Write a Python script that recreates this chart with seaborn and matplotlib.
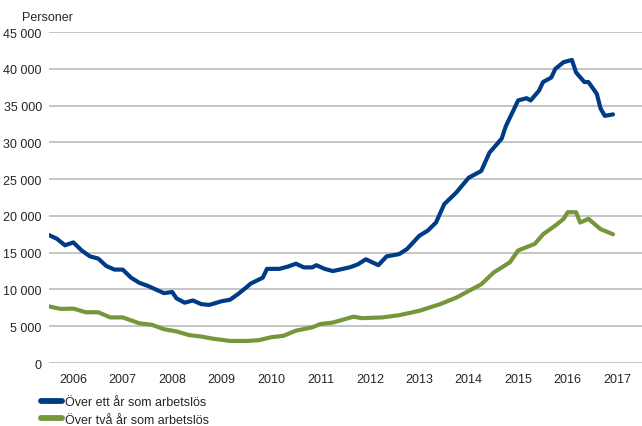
import matplotlib
matplotlib.use("Agg")
import matplotlib.pyplot as plt
import matplotlib.dates as mdates
import pandas as pd
import seaborn as sns

# long-term unemployed
blue_months = ["2006-01", "2006-03", "2006-05", "2006-07", "2006-09", "2006-11",
               "2007-01", "2007-03", "2007-05", "2007-07", "2007-09", "2007-11",
               "2008-01", "2008-03", "2008-05", "2008-07", "2008-08", "2008-10",
               "2008-12", "2009-02", "2009-04", "2009-07", "2009-09", "2009-11",
               "2010-01", "2010-02", "2010-05", "2010-06", "2010-09", "2010-11",
               "2011-01", "2011-03", "2011-05", "2011-06", "2011-08", "2011-10",
               "2012-02", "2012-04", "2012-06", "2012-09", "2012-11", "2013-02",
               "2013-04", "2013-07", "2013-09", "2013-11", "2014-01", "2014-04",
               "2014-07", "2014-10", "2014-12", "2015-03", "2015-04", "2015-07",
               "2015-09", "2015-10", "2015-12", "2016-01", "2016-03", "2016-04",
               "2016-06", "2016-08", "2016-09", "2016-11", "2016-12", "2017-02",
               "2017-03", "2017-04", "2017-06"]
blue_values = [17400, 16900, 16000, 16400, 15300, 14500,
               14200, 13200, 12700, 12700, 11600, 10900,
               10500, 10000, 9500, 9650, 8800, 8200,
               8500, 8000, 7900, 8400, 8600, 9400,
               10300, 10800, 11600, 12800, 12800, 13100,
               13500, 13000, 13000, 13300, 12800, 12500,
               13000, 13400, 14100, 13300, 14500, 14800,
               15500, 17300, 18000, 19100, 21600, 23200,
               25200, 26100, 28600, 30500, 32200, 35700,
               36000, 35700, 37000, 38200, 38800, 40000,
               40900, 41200, 39500, 38200, 38200, 36600,
               34600, 33600, 33800]

green_months = ["2006-01", "2006-04", "2006-07", "2006-10", "2007-01", "2007-04",
                "2007-07", "2007-11", "2008-02", "2008-05", "2008-08", "2008-11",
                "2009-02", "2009-05", "2009-09", "2010-01", "2010-04", "2010-07",
                "2010-10", "2011-01", "2011-05", "2011-07", "2011-10", "2012-03",
                "2012-05", "2012-10", "2013-02", "2013-07", "2013-12", "2014-04",
                "2014-08", "2014-10", "2015-01", "2015-05", "2015-07", "2015-11",
                "2016-01", "2016-04", "2016-06", "2016-07", "2016-09", "2016-10",
                "2016-12", "2017-03", "2017-06"]
green_values = [7700, 7350, 7400, 6900, 6900, 6200,
                6200, 5400, 5200, 4600, 4300, 3800,
                3600, 3300, 3000, 3000, 3100, 3500,
                3700, 4400, 4850, 5300, 5500, 6300,
                6100, 6200, 6500, 7100, 8000, 8900,
                10100, 10700, 12300, 13700, 15300, 16200,
                17500, 18700, 19600, 20500, 20500, 19100,
                19600, 18200, 17500]

labels = ["Över ett år som arbetslös", "Över två år som arbetslös"]
colors = ["#003C86", "#76963C"]
years = list(range(2006, 2018))
yticks = list(range(0, 45001, 5000))

df = pd.concat([
    pd.DataFrame({"Månad": pd.to_datetime(blue_months), "Personer": blue_values,
                  "Serie": labels[0]}),
    pd.DataFrame({"Månad": pd.to_datetime(green_months), "Personer": green_values,
                  "Serie": labels[1]}),
])

sns.set_style("white")
plt.rcParams["font.family"] = ["Liberation Sans", "DejaVu Sans"]

fig = plt.figure(figsize=(6.42, 4.27), dpi=100)
ax = fig.add_axes([0.076, 0.1475, 0.924, 0.7752])

sns.lineplot(data=df, x="Månad", y="Personer", hue="Serie", palette=colors,
             linewidth=3.0, ax=ax, legend=False, solid_capstyle="round",
             solid_joinstyle="round")

ax.set_ylim(0, 45000)
ax.set_yticks(yticks)
ax.set_yticklabels([f"{v:,}".replace(",", " ") for v in yticks], fontsize=9)
ax.yaxis.grid(True, color="#C0C0C0", linewidth=1.3)
ax.set_axisbelow(True)

ax.set_xlim(pd.Timestamp("2006-01-01"), pd.Timestamp("2018-01-01"))
ax.set_xticks([mdates.date2num(pd.Timestamp(f"{y}-07-01")) for y in years])
ax.set_xticklabels([str(y) for y in years], fontsize=9)
ax.tick_params(axis="both", length=0, pad=5)
ax.tick_params(axis="x", pad=7)
ax.set_xlabel("")
ax.set_ylabel("")
sns.despine(ax=ax, left=True, bottom=True)

fig.text(0.034, 0.957, "Personer", fontsize=9, ha="left", va="center")

handles = [plt.Line2D([], [], color=c, linewidth=4.2) for c in colors]
fig.legend(handles, labels, loc="lower left", bbox_to_anchor=(0.05, -0.02),
           frameon=False, fontsize=9, handlelength=1.7, handletextpad=0.25,
           labelspacing=0.45, borderpad=0.2)

fig.savefig("out.png", dpi=100)
